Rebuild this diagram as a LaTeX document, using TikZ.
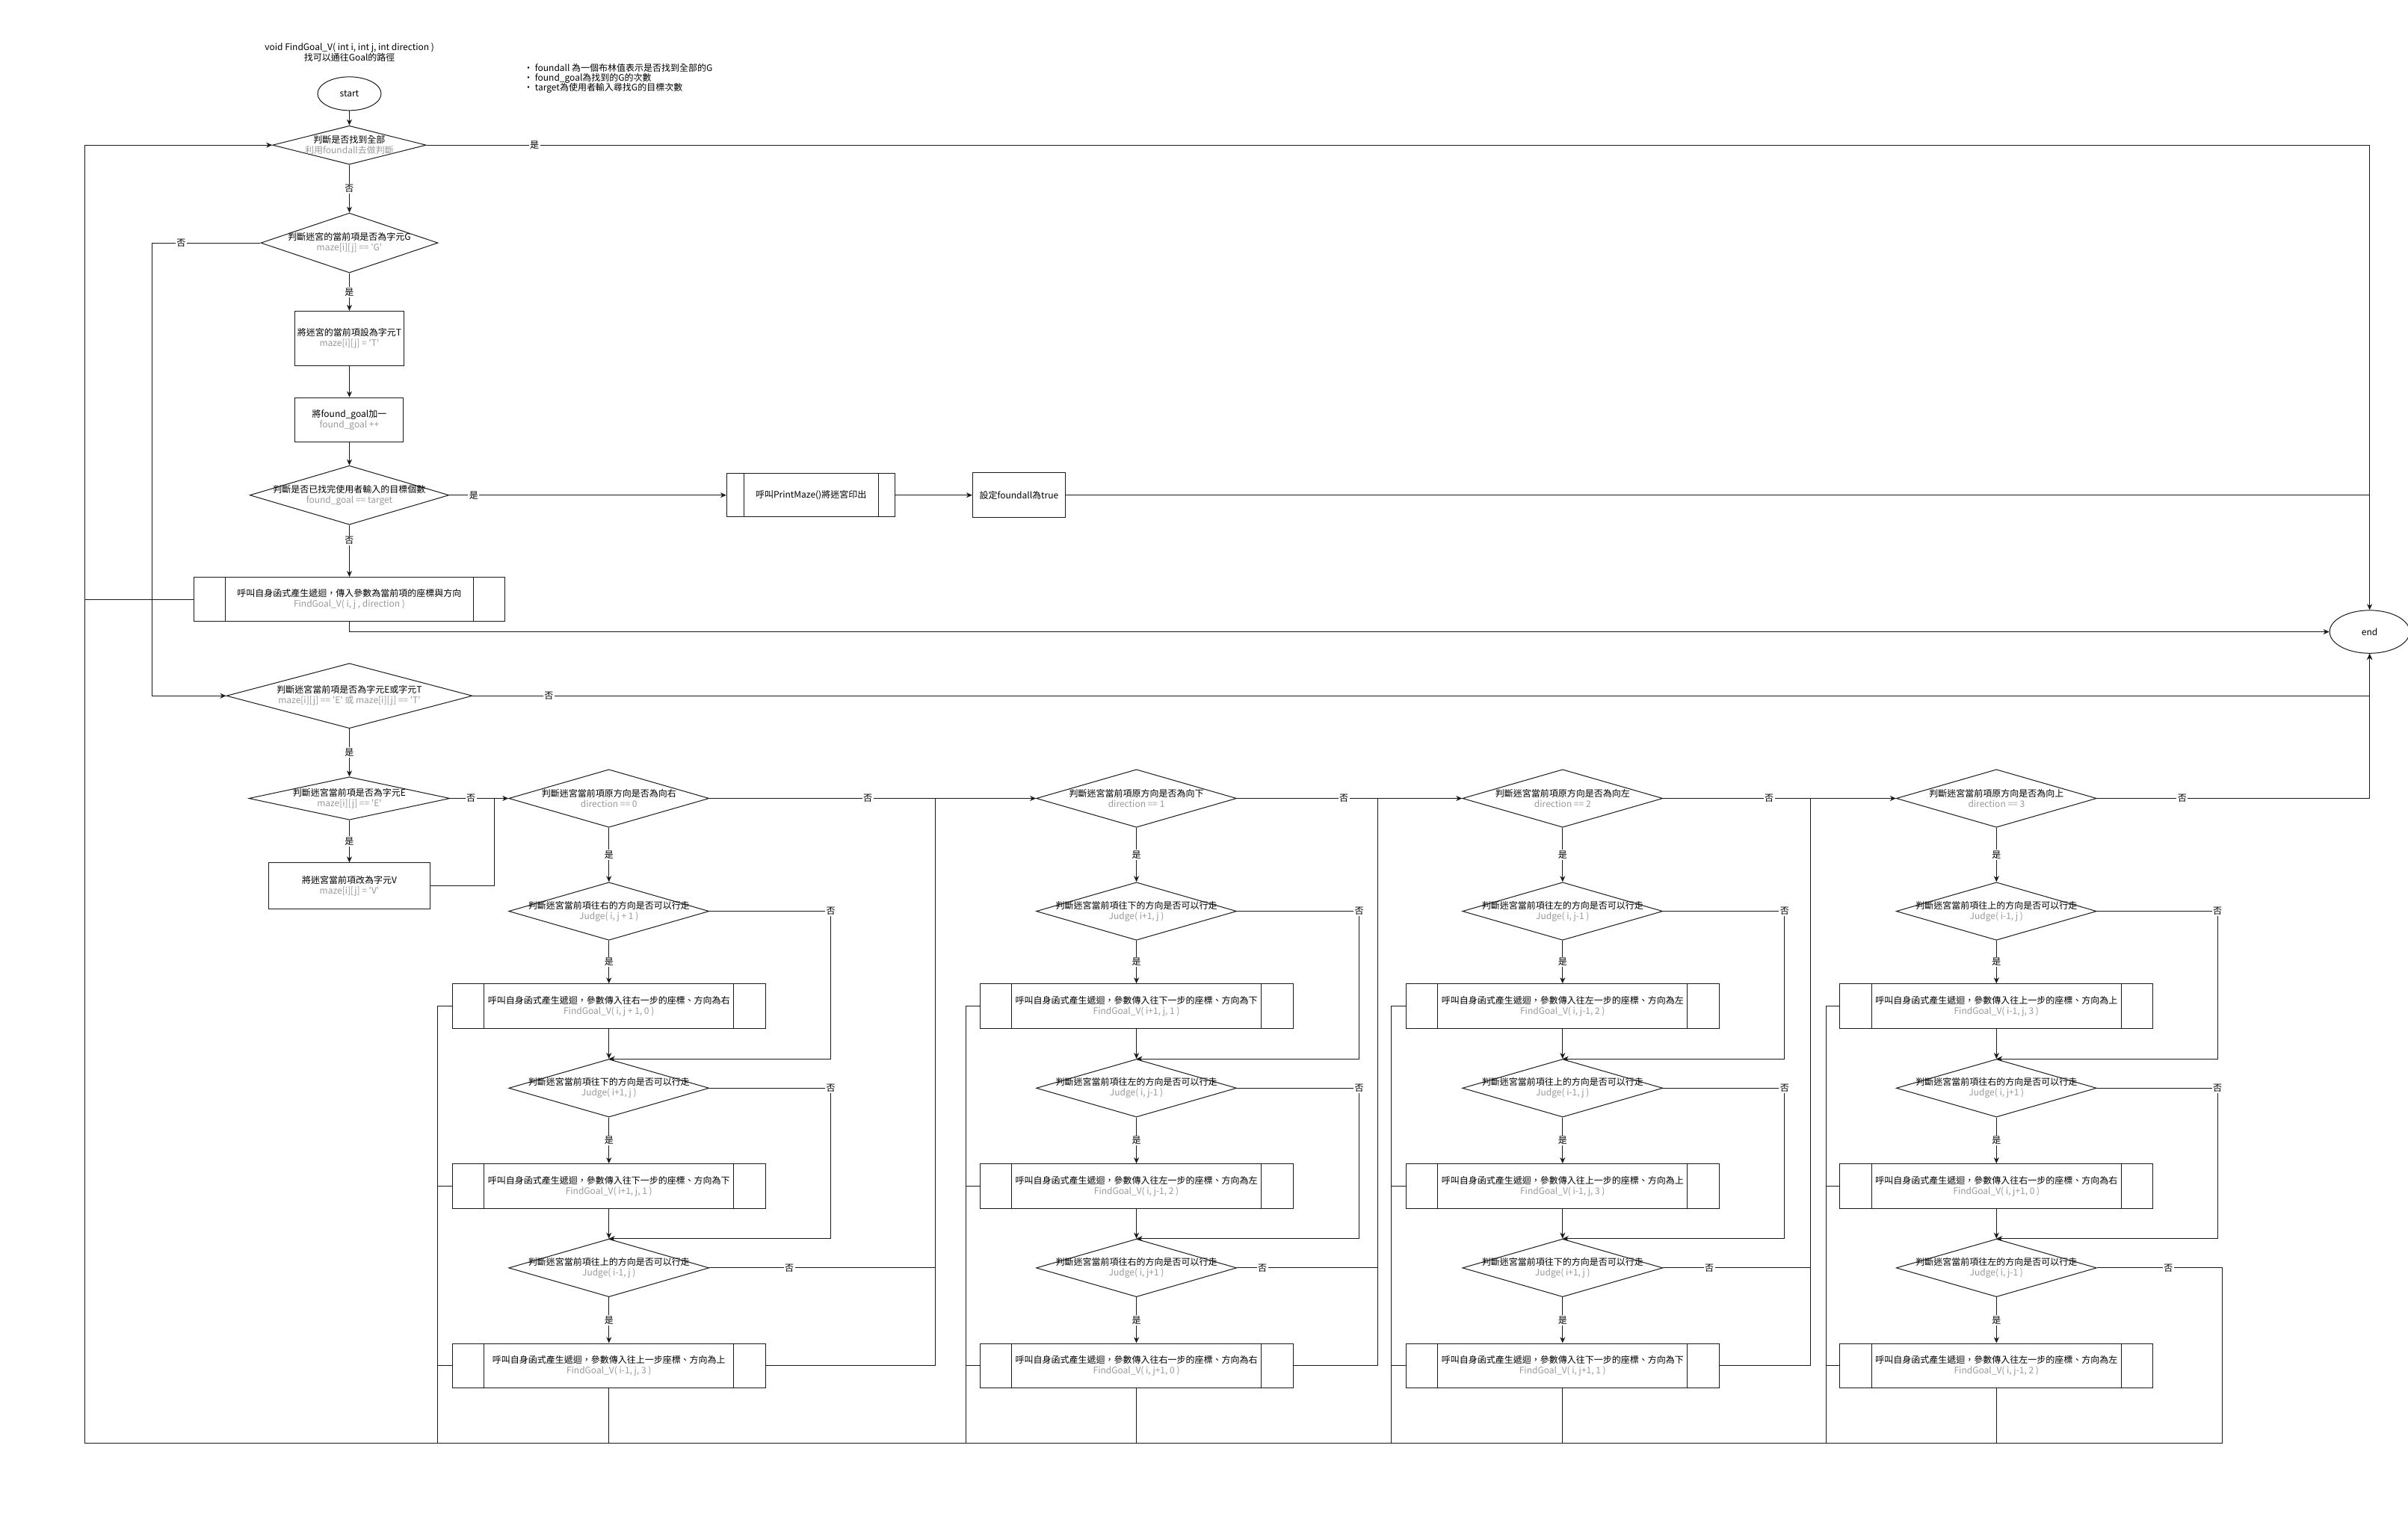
\documentclass[tikz,border=0pt]{standalone}
\usepackage{fontspec}
\setmainfont{Noto Sans CJK TC}
\usetikzlibrary{shapes.geometric,arrows.meta}
\definecolor{subc}{HTML}{999999}
\definecolor{inkc}{HTML}{1A1A1A}
\newcommand\subtxt[1]{\textcolor{subc}{#1}}
\newcommand\sq{\textquotesingle}

% one direction column: 4 decisions and 3 recursive calls
\newcommand\flowcol[9]{%
  \node[coldec, label={[dtxt]center:{#3}}] (#1d0) at (#2,520) {};
  \node[coldec, label={[dtxt]center:{#4}}] (#1d1) at (#2,593.5) {};
  \node[colproc] (#1p1) at (#2,655.3) {#5};
  \node[coldec, label={[dtxt]center:{#6}}] (#1d2) at (#2,708.7) {};
  \node[colproc] (#1p2) at (#2,772.5) {#7};
  \node[coldec, label={[dtxt]center:{#8}}] (#1d3) at (#2,825.8) {};
  \node[colproc] (#1p3) at (#2,889.5) {#9};
}
% connectors inside one column: #1 prefix, #2 centre x, #3 x of the "no" return line, #4 x of the left line
\newcommand\flowedges[4]{%
  \draw[arr] (#1d0.south) -- node[yn] (#1y0) {是} (#1d1.north);
  \draw[arr] (#1d1.south) -- node[yn] (#1y1) {是} (#1p1.north);
  \draw[arr] (#1p1.south) -- (#1d2.north);
  \draw[arr] (#1d2.south) -- node[yn] (#1y2) {是} (#1p2.north);
  \draw[arr] (#1p2.south) -- (#1d3.north);
  \draw[arr] (#1d3.south) -- node[yn] (#1y3) {是} (#1p3.north);
  \draw[arr] (#1d1.east) -- (#3,593.5) node[yn] (#1n1) {否} -- (#1d2.north -| #1n1) -- (#1d2.north);
  \draw[arr] (#1d2.east) -- (#3,708.7) node[yn] (#1n2) {否} -- (#1d3.north -| #1n2) -- (#1d3.north);
  \draw[ln] (#1p1.west) -- (#4,655.3) -- (#4,940);
  \draw[ln] (#1p2.west) -- (#4,772.5);
  \draw[ln] (#1p3.west) -- (#4,889.5);
  \draw[ln] (#1p3.south) -- (#2,940);
}

\begin{document}
\begin{tikzpicture}[x=2.055pt,y=-2.055pt,
  every node/.style={font=\fontsize{12}{14}\selectfont, text=black},
  ln/.style={line width=1pt, draw=inkc},
  arr/.style={ln, -{Stealth[length=8pt,width=7pt,inset=2.5pt]}},
  dec/.style 2 args={diamond, draw=inkc, line width=1pt, fill=white, minimum width=#1, minimum height=#2, inner sep=0pt},
  coldec/.style={dec={268pt}{77.5pt}},
  dtxt/.style={align=center, inner sep=0pt},
  box/.style={rectangle, draw=inkc, line width=1pt, fill=white, align=center, inner sep=0pt},
  subp/.style={box, path picture={
      \draw[ln] ([xshift=#1]path picture bounding box.north west) -- ([xshift=#1]path picture bounding box.south west);
      \draw[ln] ([xshift=-#1]path picture bounding box.north east) -- ([xshift=-#1]path picture bounding box.south east);}},
  colproc/.style={subp=42.5pt, minimum width=419pt, minimum height=59.6pt},
  yn/.style={fill=white, inner sep=1.5pt},
  term/.style={ellipse, draw=inkc, line width=1pt, fill=white, inner sep=0pt},
]
\fill[white] (0,0) rectangle (1568,993);
\useasboundingbox (0,0) rectangle (1568,993);

\coordinate (loopB) at (55,940);
\coordinate (x99) at (99,0);

% heading and notes
\node[align=center, font=\fontsize{12}{13}\selectfont] (title) at (227.6,33.9)
  {void FindGoal\_V( int i, int j, int direction )\\找可以通往Goal的路徑};
\node[align=left, anchor=west, font=\fontsize{12}{13.4}\selectfont] (notes) at (339.5,51.1)
  {• foundall 為一個布林值表示是否找到全部的G\\• found\_goal為找到的G的次數\\• target為使用者輸入尋找G的目標次數};

% main trunk
\node[term, minimum width=85pt, minimum height=45pt] (start) at (227.5,61) {start};
\node[dec={205.5pt}{51.8pt}, label={[dtxt]center:{判斷是否找到全部\\\subtxt{利用foundall去做判斷}}}] (d1) at (227.5,94.5) {};
\node[dec={237pt}{80pt}, label={[dtxt]center:{判斷迷宮的當前項是否為字元G\\\subtxt{maze[i][j] == \sq G\sq}}}] (d2) at (227.5,158.2) {};
\node[box, minimum width=146pt, minimum height=73pt] (b1) at (227.5,220.4) {將迷宮的當前項設為字元T\\\subtxt{maze[i][j] = \sq T\sq}};
\node[box, minimum width=145pt, minimum height=59.6pt] (b2) at (227.5,273.5) {將found\_goal加一\\\subtxt{found\_goal ++}};
\node[dec={266.5pt}{79pt}, label={[dtxt]center:{判斷是否已找完使用者輸入的目標個數\\\subtxt{found\_goal == target}}}] (d3) at (227.5,322.5) {};
\node[subp=22.8pt, minimum width=225.6pt, minimum height=57.5pt] (p1) at (528.1,322.5) {呼叫PrintMaze()將迷宮印出};
\node[box, minimum width=124pt, minimum height=60pt] (b3) at (663.5,322.5) {設定foundall為true};
\node[subp=42pt, minimum width=415.5pt, minimum height=59pt] (p2) at (227.5,390.3) {呼叫自身函式產生遞迴，傳入參數為當前項的座標與方向\\\subtxt{FindGoal\_V( i, j , direction )}};
\node[term, minimum width=107pt, minimum height=57.5pt] (end) at (1543,411.5) {end};
\node[dec={329pt}{87pt}, label={[dtxt]center:{判斷迷宮當前項是否為字元E或字元T\\\subtxt{maze[i][j] == \sq E\sq{} 或 maze[i][j] == \sq T\sq}}}] (d5) at (227.5,453.2) {};
\node[dec={269pt}{57.5pt}, label={[dtxt]center:{判斷迷宮當前項是否為字元E\\\subtxt{maze[i][j] == \sq E\sq}}}] (d6) at (227.5,520) {};
\node[box, minimum width=216pt, minimum height=61.7pt] (b4) at (227.5,577) {將迷宮當前項改為字元V\\\subtxt{maze[i][j] = \sq V\sq}};

% the four direction columns
\flowcol{A}{396.5}
 {判斷迷宮當前項原方向是否為向右\\\subtxt{direction == 0}}
 {判斷迷宮當前項往右的方向是否可以行走\\\subtxt{Judge( i, j + 1 )}}
 {呼叫自身函式產生遞迴，參數傳入往右一步的座標、方向為右\\\subtxt{FindGoal\_V( i, j + 1, 0 )}}
 {判斷迷宮當前項往下的方向是否可以行走\\\subtxt{Judge( i+1, j )}}
 {呼叫自身函式產生遞迴，參數傳入往下一步的座標、方向為下\\\subtxt{FindGoal\_V( i+1, j, 1 )}}
 {判斷迷宮當前項往上的方向是否可以行走\\\subtxt{Judge( i-1, j )}}
 {呼叫自身函式產生遞迴，參數傳入往上一步座標、方向為上\\\subtxt{FindGoal\_V( i-1, j, 3 )}}
\flowcol{B}{740}
 {判斷迷宮當前項原方向是否為向下\\\subtxt{direction == 1}}
 {判斷迷宮當前項往下的方向是否可以行走\\\subtxt{Judge( i+1, j )}}
 {呼叫自身函式產生遞迴，參數傳入往下一步的座標、方向為下\\\subtxt{FindGoal\_V( i+1, j, 1 )}}
 {判斷迷宮當前項往左的方向是否可以行走\\\subtxt{Judge( i, j-1 )}}
 {呼叫自身函式產生遞迴，參數傳入往左一步的座標、方向為左\\\subtxt{FindGoal\_V( i, j-1, 2 )}}
 {判斷迷宮當前項往右的方向是否可以行走\\\subtxt{Judge( i, j+1 )}}
 {呼叫自身函式產生遞迴，參數傳入往右一步的座標、方向為右\\\subtxt{FindGoal\_V( i, j+1, 0 )}}
\flowcol{C}{1017.5}
 {判斷迷宮當前項原方向是否為向左\\\subtxt{direction == 2}}
 {判斷迷宮當前項往左的方向是否可以行走\\\subtxt{Judge( i, j-1 )}}
 {呼叫自身函式產生遞迴，參數傳入往左一步的座標、方向為左\\\subtxt{FindGoal\_V( i, j-1, 2 )}}
 {判斷迷宮當前項往上的方向是否可以行走\\\subtxt{Judge( i-1, j )}}
 {呼叫自身函式產生遞迴，參數傳入往上一步的座標、方向為上\\\subtxt{FindGoal\_V( i-1, j, 3 )}}
 {判斷迷宮當前項往下的方向是否可以行走\\\subtxt{Judge( i+1, j )}}
 {呼叫自身函式產生遞迴，參數傳入往下一步的座標、方向為下\\\subtxt{FindGoal\_V( i, j+1, 1 )}}
\flowcol{D}{1300}
 {判斷迷宮當前項原方向是否為向上\\\subtxt{direction == 3}}
 {判斷迷宮當前項往上的方向是否可以行走\\\subtxt{Judge( i-1, j )}}
 {呼叫自身函式產生遞迴，參數傳入往上一步的座標、方向為上\\\subtxt{FindGoal\_V( i-1, j, 3 )}}
 {判斷迷宮當前項往右的方向是否可以行走\\\subtxt{Judge( i, j+1 )}}
 {呼叫自身函式產生遞迴，參數傳入往右一步的座標、方向為右\\\subtxt{FindGoal\_V( i, j+1, 0 )}}
 {判斷迷宮當前項往左的方向是否可以行走\\\subtxt{Judge( i, j-1 )}}
 {呼叫自身函式產生遞迴，參數傳入往左一步的座標、方向為左\\\subtxt{FindGoal\_V( i, j-1, 2 )}}

% trunk connectors
\draw[arr] (start.south) -- (d1.north);
\draw[arr] (d1.east) -| (end.north);
\node[yn] (l1) at (348,94.5) {是};
\draw[arr] (d1.south) -- node[yn] (l2) {否} (d2.north);
\draw[arr] (d2.west) -- (d2.west -| x99) -- (d5.west -| x99) -- (d5.west);
\node[yn] (l3) at (118,158.2) {否};
\draw[arr] (d2.south) -- node[yn] (l4) {是} (b1.north);
\draw[arr] (b1.south) -- (b2.north);
\draw[arr] (b2.south) -- (d3.north);
\draw[arr] (d3.east) -- (p1.west);
\node[yn] (l5) at (308.5,322.5) {是};
\draw[arr] (p1.east) -- (b3.west);
\draw[ln] (b3.east) -- (b3.east -| end.north);
\draw[arr] (d3.south) -- node[yn, pos=0.3] (l6) {否} (p2.north);
\draw[ln] (p2.west) -- (p2.west -| loopB);
\draw[arr] (p2.south) |- (end.west);
\draw[arr] (d5.east) -| (end.south);
\node[yn] (l7) at (357.4,453.2) {否};
\draw[arr] (d5.south) -- node[yn] (l8) {是} (d6.north);
\draw[arr] (d6.east) -- (Ad0.west);
\node[yn] (l9) at (306.6,520) {否};
\draw[arr] (d6.south) -- node[yn] (l10) {是} (b4.north);
\draw[ln] (b4.east) -| (321.7,520);

% direction chain along the top row
\draw[arr] (Ad0.east) -- (Bd0.west);
\node[yn] (l11) at (565,520) {否};
\draw[arr] (Bd0.east) -- (Cd0.west);
\node[yn] (l12) at (875,520) {否};
\draw[arr] (Cd0.east) -- (Dd0.west);
\node[yn] (l13) at (1152,520) {否};
\draw[arr] (Dd0.east) -| (end.south);
\node[yn] (l14) at (1421,520) {否};

% inside the columns
\flowedges{A}{396.5}{541}{285}
\flowedges{B}{740}{885}{629}
\flowedges{C}{1017.5}{1162}{906}
\flowedges{D}{1300}{1444}{1189}

% last decision of each column joins the next column
\draw[ln] (Ad3.east) -- (609,825.8);
\node[yn] (An3) at (514,825.8) {否};
\draw[ln] (Ap3.east) -| (609,520);
\draw[ln] (Bd3.east) -- (897,825.8);
\node[yn] (Bn3) at (822,825.8) {否};
\draw[ln] (Bp3.east) -| (897,520);
\draw[ln] (Cd3.east) -- (1179,825.8);
\node[yn] (Cn3) at (1113,825.8) {否};
\draw[ln] (Cp3.east) -| (1179,520);

% return loop along the bottom back to the first decision
\draw[arr] (Dd3.east) -- (1447,825.8) -- (1447,940) -- (loopB) |- (d1.west);
\node[yn] (Dn3) at (1412,825.8) {否};
\end{tikzpicture}
\end{document}
